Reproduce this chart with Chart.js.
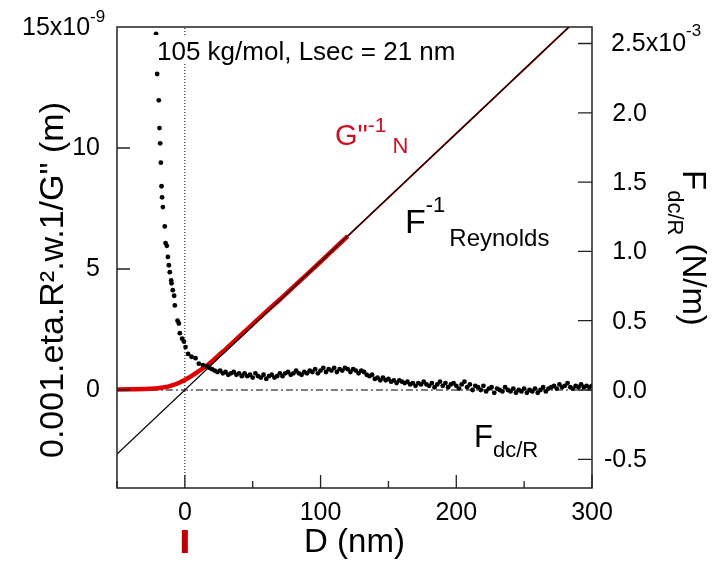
<!DOCTYPE html>
<html>
<head>
<meta charset="utf-8">
<title>D (nm)</title>
<script src="https://cdn.jsdelivr.net/npm/chart.js@4/dist/chart.umd.min.js"></script>
<style>
  html, body { margin: 0; padding: 0; background: #fff; }
  canvas { display: block; }
</style>
</head>
<body>
<canvas id="grafico" width="722" height="564"></canvas>
<script>
/* ===== axes ===== */
const xTicks = [0, 100, 200, 300];
const xMinorTicks = [-50, 50, 150, 250];
const leftTicks = [0, 5, 10];
const rightTicks = [-0.5, 0, 0.5, 1.0, 1.5, 2.0, 2.5];

/* ===== F^-1 Reynolds (left axis, x1e-9 m) ===== */
const reynoldsD = [-50, 300];
const reynoldsInv = [-2.65, 15.9];

/* ===== G"^-1 N (left axis, x1e-9 m) ===== */
const gInvD = [-50, -40, -30, -20, -15, -10, -5, 0, 5, 10, 15, 20, 25, 30, 40, 50, 60, 70, 80, 90, 100, 110, 120,
  140, 160, 180, 200, 220, 240, 260, 280, 300];
const gInvN = [0.02, 0.03, 0.04, 0.07, 0.11, 0.18, 0.28, 0.41, 0.58, 0.77, 0.96, 1.18, 1.44, 1.68, 2.2, 2.72, 3.24, 3.74, 4.26, 4.78, 5.3, 5.83, 6.36,
  7.42, 8.48, 9.54, 10.6, 11.66, 12.72, 13.78, 14.84, 15.9];

/* ===== F dc/R (right axis, x1e-3 N/m) ===== */
const fdcD = [-21.2, -20.4, -19.2, -18.7, -18.2, -17.7, -17.2, -16.8, -16.2, -14.8, -14.2, -13.3, -12.5, -11.8, -11.1,
  -10.1, -9.8, -8.9, -7.9, -7.4, -5.4, -4.4, -3.7, -2.0, -0.7, 0.5, 2.4, 4.9, 7.9, 10.3, 13.3, 16.5, 18,
  20, 22, 24, 26, 28, 30, 32, 34, 36, 38, 40, 42, 44, 46, 48, 50, 52, 54, 56, 58, 60, 62, 64, 66, 68,
  70, 72, 74, 76, 78, 80, 82, 84, 86, 88, 90, 92, 94, 96, 98, 100, 102, 104, 106, 108, 110, 112, 114, 116, 118,
  120, 122, 124, 126, 128, 130, 132, 134, 136, 138, 140, 142, 144, 146, 148, 150, 152, 154, 156, 158, 160, 162,
  164, 166, 168, 170, 172, 174, 176, 178, 180, 182, 184, 186, 188, 190, 192, 194, 196, 198, 200, 202, 204, 206,
  208, 210, 212, 214, 216, 218, 220, 222, 224, 226, 228, 230, 232, 234, 236, 238, 240, 242, 244, 246, 248, 250,
  252, 254, 256, 258, 260, 262, 264, 266, 268, 270, 272, 274, 276, 278, 280, 282, 284, 286, 288, 290, 292, 294,
  296, 298, 300];
const fdcR = [2.57, 2.28, 2.09, 1.89, 1.78, 1.64, 1.47, 1.39, 1.32, 1.18, 1.06, 1.04, 0.96, 0.9, 0.85,
  0.79, 0.77, 0.72, 0.68, 0.61, 0.5, 0.48, 0.41, 0.37, 0.35, 0.31, 0.26, 0.24, 0.23, 0.19, 0.18, 0.17, 0.16,
  0.15, 0.14, 0.13, 0.14, 0.12, 0.13, 0.11, 0.12, 0.13, 0.11, 0.12, 0.10, 0.12, 0.10, 0.11, 0.09, 0.12, 0.10, 0.09, 0.11, 0.08, 0.10, 0.11, 0.09, 0.10,
  0.12, 0.10, 0.12, 0.13, 0.11, 0.12, 0.14, 0.12, 0.11, 0.13, 0.12, 0.14, 0.13, 0.15, 0.12, 0.14, 0.16, 0.13, 0.15, 0.14, 0.16, 0.13, 0.15, 0.14, 0.16,
  0.15, 0.13, 0.15, 0.14, 0.12, 0.14, 0.13, 0.11, 0.10, 0.11, 0.08, 0.09, 0.07, 0.09, 0.07, 0.08, 0.06, 0.07, 0.05, 0.07, 0.06, 0.05,
  0.06, 0.04, 0.05, 0.03, 0.05, 0.04, 0.06, 0.04, 0.03, 0.05, 0.02, 0.04, 0.06, 0.03, 0.05, 0.02, 0.04, 0.05, 0.03, 0.01, 0.04,
  0.06, 0.02, 0.04, 0.00, 0.03, 0.02, 0.00, 0.03, -0.01, 0.01, 0.02, -0.02, 0.01, 0.00, -0.01, 0.02, 0.00, -0.01, 0.01, -0.02, 0.00, -0.01, 0.01,
  -0.02, 0.00, -0.01, 0.01, -0.02, 0.00, 0.02, -0.01, 0.01, 0.02, 0.03, 0.01, 0.04, 0.02, 0.03, 0.05, 0.02, 0.01, 0.03, 0.02, 0.04, 0.02,
  0.03, 0.02, 0.03];

/* ===== reference lines ===== */
const zeroD = [-25, 300];
const zeroF = [0, 0];
const contactD = [0, 0];
const contactY = [-4.05, 15];

const FONT = '"Liberation Sans", Arial, Helvetica, sans-serif';
const VERMELHO = '#e00000';
const TEXTO_VERMELHO = '#cc1122';

const pts = (xs, ys) => xs.map((v, i) => ({ x: v, y: ys[i] }));

/* texto com sobrescrito / subscrito */
function runs(ctx, x, y, parts) {
  let cx = x;
  parts.forEach(p => {
    ctx.font = `${p.size}px ${FONT}`;
    ctx.fillStyle = p.color || '#000';
    ctx.fillText(p.text, cx, y + (p.dy || 0));
    cx += ctx.measureText(p.text).width + (p.gap || 0);
  });
}

const moldura = {
  id: 'moldura',
  afterDraw(chart) {
    const { ctx, chartArea: a, scales } = chart;
    const sx = scales.x, sy = scales.y, sy2 = scales.y2;
    ctx.save();

    // caixa
    ctx.strokeStyle = '#222';
    ctx.lineWidth = 1.5;
    ctx.strokeRect(a.left, a.top, a.right - a.left, a.bottom - a.top);

    // ticks para dentro
    ctx.lineWidth = 1.3;
    ctx.beginPath();
    xTicks.forEach(v => {
      const px = sx.getPixelForValue(v);
      ctx.moveTo(px, a.bottom); ctx.lineTo(px, a.bottom - 13);
    });
    xMinorTicks.forEach(v => {
      const px = sx.getPixelForValue(v);
      ctx.moveTo(px, a.bottom); ctx.lineTo(px, a.bottom - 7);
    });
    leftTicks.forEach(v => {
      const py = sy.getPixelForValue(v);
      ctx.moveTo(a.left, py); ctx.lineTo(a.left + 13, py);
    });
    rightTicks.forEach(v => {
      const py = sy2.getPixelForValue(v);
      ctx.moveTo(a.right, py); ctx.lineTo(a.right - 14, py);
    });
    ctx.stroke();

    // rotulos do eixo direito, alinhados a direita
    ctx.font = `25px ${FONT}`;
    ctx.fillStyle = '#000';
    ctx.textAlign = 'right';
    ctx.textBaseline = 'middle';
    rightTicks.filter(v => v !== 2.5).forEach(v => {
      ctx.fillText(v.toFixed(1), a.right + 55, sy2.getPixelForValue(v) + 1);
    });

    ctx.textBaseline = 'alphabetic';
    ctx.textAlign = 'left';

    // rotulos com expoente
    runs(ctx, 22, 35, [
      { text: '15x10', size: 25 },
      { text: '-9', size: 17, dy: -13 }
    ]);
    runs(ctx, 611, 51, [
      { text: '2.5x10', size: 25 },
      { text: '-3', size: 17, dy: -15 }
    ]);

    // anotacao de amostra
    ctx.fillStyle = '#fff';
    ctx.fillRect(153, 35, 326, 29);
    runs(ctx, 157, 60, [{ text: '105 kg/mol, Lsec = 21 nm', size: 26 }]);

    // G"^-1 N
    runs(ctx, 335, 145, [
      { text: 'G"', size: 29, color: TEXTO_VERMELHO },
      { text: '-1', size: 21, dy: -13, color: TEXTO_VERMELHO, gap: 6 },
      { text: 'N', size: 22, dy: 8, color: TEXTO_VERMELHO }
    ]);

    // F^-1 Reynolds
    runs(ctx, 405, 233, [
      { text: 'F', size: 34 },
      { text: '-1', size: 22, dy: -21, gap: 4 },
      { text: 'Reynolds', size: 24, dy: 13 }
    ]);

    // F dc/R
    runs(ctx, 474, 447, [
      { text: 'F', size: 31 },
      { text: 'dc/R', size: 22, dy: 10 }
    ]);

    // titulo eixo x
    ctx.font = `33px ${FONT}`;
    ctx.fillStyle = '#000';
    ctx.textAlign = 'center';
    ctx.fillText('D (nm)', (a.left + a.right) / 2, 552);

    // titulo eixo esquerdo
    ctx.save();
    ctx.translate(63, 280);
    ctx.rotate(-Math.PI / 2);
    ctx.font = `34px ${FONT}`;
    ctx.fillText('0.001.eta.R\u00b2.w.1/G" (m)', 0, 0);
    ctx.restore();

    // titulo eixo direito
    ctx.save();
    ctx.translate(683, 170);
    ctx.rotate(Math.PI / 2);
    ctx.textAlign = 'left';
    runs(ctx, 0, 0, [
      { text: 'F', size: 33 },
      { text: 'dc/R', size: 22, dy: 15, gap: 8 },
      { text: '(N/m)', size: 33 }
    ]);
    ctx.restore();

    // marca vermelha em D = 0
    const m = sx.getPixelForValue(0);
    ctx.fillStyle = '#c00000';
    ctx.fillRect(m - 3, 530, 6, 23);

    ctx.restore();
  }
};

const ctx = document.getElementById('grafico');

new Chart(ctx, {
  type: 'scatter',
  data: {
    datasets: [
      {
        label: 'F dc/R',
        data: pts(fdcD, fdcR),
        yAxisID: 'y2',
        showLine: false,
        pointRadius: 2.4,
        pointBackgroundColor: '#000',
        pointBorderWidth: 0
      },
      {
        label: 'F-1 Reynolds',
        data: pts(reynoldsD, reynoldsInv),
        yAxisID: 'y',
        showLine: true,
        borderColor: '#000',
        borderWidth: 1.3,
        pointRadius: 0
      },
      {
        label: 'G"-1 N',
        data: pts(gInvD, gInvN),
        yAxisID: 'y',
        showLine: true,
        borderColor: VERMELHO,
        borderWidth: 4.5,
        cubicInterpolationMode: 'monotone',
        pointRadius: 0,
        segment: {
          borderWidth: c => (c.p0.parsed.x >= 120 ? 1.8 : 4.5)
        }
      },
      {
        label: 'zero',
        data: pts(zeroD, zeroF),
        yAxisID: 'y2',
        showLine: true,
        borderColor: '#000',
        borderWidth: 1,
        borderDash: [7, 3, 2, 3],
        pointRadius: 0
      },
      {
        label: 'D = 0',
        data: pts(contactD, contactY),
        yAxisID: 'y',
        showLine: true,
        borderColor: '#000',
        borderWidth: 1,
        borderDash: [1, 2],
        pointRadius: 0
      }
    ]
  },
  options: {
    responsive: false,
    animation: false,
    layout: { padding: { top: 27, left: 0, right: 0, bottom: 0 } },
    plugins: {
      legend: { display: false },
      tooltip: { enabled: false }
    },
    scales: {
      x: {
        type: 'linear',
        min: -50,
        max: 300,
        grid: { display: false },
        border: { display: false },
        afterBuildTicks: s => { s.ticks = xTicks.map(v => ({ value: v })); },
        afterFit: s => { s.height = 76; },
        ticks: {
          autoSkip: false,
          maxRotation: 0,
          padding: 2,
          color: '#000',
          font: { family: FONT, size: 25 },
          callback: v => String(v)
        }
      },
      y: {
        type: 'linear',
        position: 'left',
        min: -4.05,
        max: 15,
        grid: { display: false },
        border: { display: false },
        afterBuildTicks: s => { s.ticks = leftTicks.map(v => ({ value: v })); },
        afterFit: s => { s.width = 117; },
        ticks: {
          padding: 9,
          color: '#000',
          font: { family: FONT, size: 25 },
          callback: v => String(v)
        }
      },
      y2: {
        type: 'linear',
        position: 'right',
        min: -0.707,
        max: 2.619,
        grid: { display: false },
        border: { display: false },
        afterBuildTicks: s => { s.ticks = rightTicks.map(v => ({ value: v })); },
        afterFit: s => { s.width = 130; },
        ticks: { display: false }
      }
    }
  },
  plugins: [moldura]
});
</script>
</body>
</html>
